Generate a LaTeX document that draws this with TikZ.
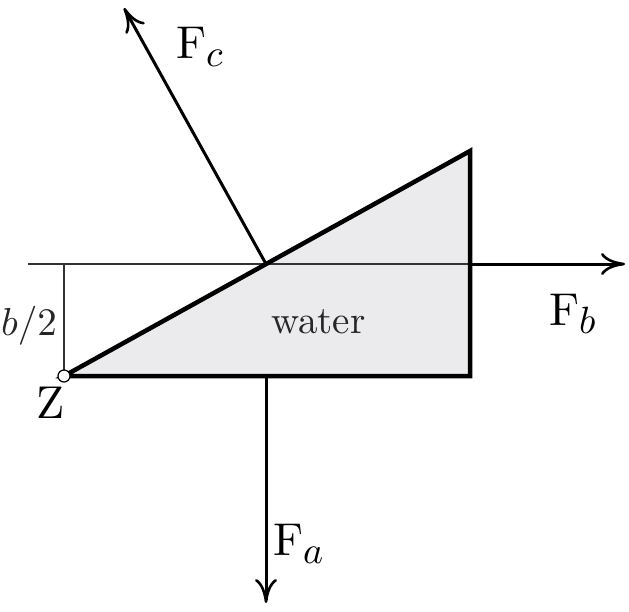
\documentclass[tikz,border=0pt]{standalone}
\usepackage{graphicx}
\usetikzlibrary{arrows.meta}
\definecolor{waterfill}{HTML}{EBEBEE}
\definecolor{labelgray}{HTML}{262626}
\newcommand{\bigF}[1]{\scalebox{4.6}{F}\raisebox{-8pt}{\scalebox{3.8}{$#1$}}}
\tikzset{
  edge/.style={line width=4.5pt, line join=miter},
  thinline/.style={line width=1.4pt, draw=black!80},
  force/.style={line width=3pt, -{Computer Modern Rightarrow[length=24pt,width=22pt,line width=2.6pt]}},
  lbl/.style={inner sep=0pt, anchor=base west},
}
\begin{document}
\begin{tikzpicture}[x=1pt,y=-1pt]
\useasboundingbox (0,0) rectangle (629,611);
\coordinate (Z) at (64,376);
\coordinate (T) at (470,151);
\coordinate (B) at (470,376);
\coordinate (P) at (266,264);
\coordinate (Q) at (266,376);
\coordinate (R) at (470,264);
\coordinate (L) at (28,264);
\coordinate (H) at (64,264);
\coordinate (Fcend) at (124,8);
\coordinate (Fbend) at (625,264);
\coordinate (Faend) at (266,603);
% water body
\fill[waterfill] (Z) -- (T) -- (B) -- cycle;
% thin lines
\draw[thinline] (L) -- (R);
\draw[thinline] (H) -- (Z);
% forces
\draw[force] (P) -- (Fcend);
\draw[force] (R) -- (Fbend);
\draw[force] (Q) -- (Faend);
% outline
\draw[edge] (Z) -- (T) -- (B) -- cycle;
% pivot
\draw[line width=1.2pt, fill=white] (Z) circle (6pt);
% labels
\node[lbl] (fc) at (176,58) {\bigF{c}};
\node[lbl] (fb) at (549,325) {\bigF{b}};
\node[lbl] (fa) at (273,555) {\bigF{a}};
\node[lbl] (z) at (36,418) {\scalebox{4.6}{Z}};
\node[lbl, text=labelgray] (w) at (271,333) {\scalebox{3.9}{water}};
\node[lbl, text=labelgray] (b2) at (1,335) {\scalebox{3.9}{$b/2$}};
\end{tikzpicture}
\end{document}
